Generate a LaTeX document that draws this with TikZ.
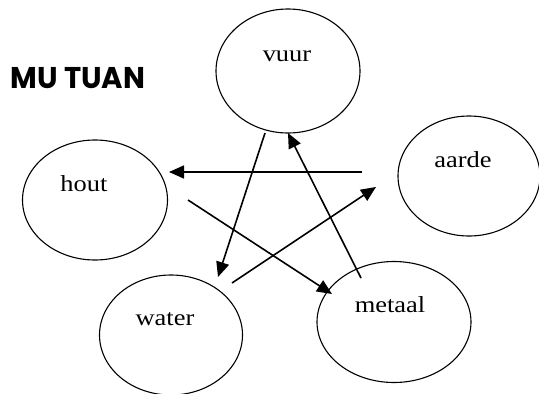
\documentclass[tikz,border=0pt]{standalone}
\usepackage{fontspec}
\setmainfont{Liberation Serif}
\newfontfamily\titlefont{Poppins}
\usetikzlibrary{shapes.geometric,arrows.meta}
\tikzset{
  elem/.style={ellipse,draw,line width=1.1pt,inner sep=0pt},
  word/.style={font=\fontsize{23}{26}\selectfont,inner sep=0pt},
  conn/.style={line width=1.6pt,-{Triangle[length=15pt,width=13pt]}}
}
\newcommand{\wide}[1]{\scalebox{1.15}[1]{#1}}
\begin{document}
\begin{tikzpicture}[x=1pt,y=-1pt]
\useasboundingbox (0,0) rectangle (539,394);
% ellipses
\node[elem,minimum width=144pt,minimum height=124pt] (vuur) at (288,71) {};
\node[elem,minimum width=145pt,minimum height=120pt] (hout) at (95,200) {};
\node[elem,minimum width=142pt,minimum height=120pt] (aarde) at (469,176) {};
\node[elem,minimum width=143pt,minimum height=120pt] (water) at (171,335) {};
\node[elem,minimum width=154pt,minimum height=121pt] (metaal) at (394,322) {};
% labels
\node[word] (tvuur) at (287,56) {\wide{vuur}};
\node[word] (thout) at (84,184) {\wide{hout}};
\node[word] (taarde) at (463,160) {\wide{aarde}};
\node[word] (twater) at (165,319) {\wide{water}};
\node[word] (tmetaal) at (390,305) {\wide{metaal}};
\node[inner sep=0pt,font=\titlefont\bfseries\fontsize{30}{34}\selectfont] (title) at (78,78) {\scalebox{0.97}[1]{MU TUAN}};
% connector ends
\coordinate (a1) at (362,172);
\coordinate (h1) at (169,172);
\coordinate (v1) at (265,133);
\coordinate (w1) at (218,277);
\coordinate (h2) at (188,200);
\coordinate (m1) at (332,294);
\coordinate (w2) at (232,283);
\coordinate (a2) at (376,187);
\coordinate (m2) at (361,278);
\coordinate (v2) at (288,133);
% connectors
\draw[conn] (a1) -- (h1);
\draw[conn] (v1) -- (w1);
\draw[conn] (h2) -- (m1);
\draw[conn] (w2) -- (a2);
\draw[conn] (m2) -- (v2);
\end{tikzpicture}
\end{document}
